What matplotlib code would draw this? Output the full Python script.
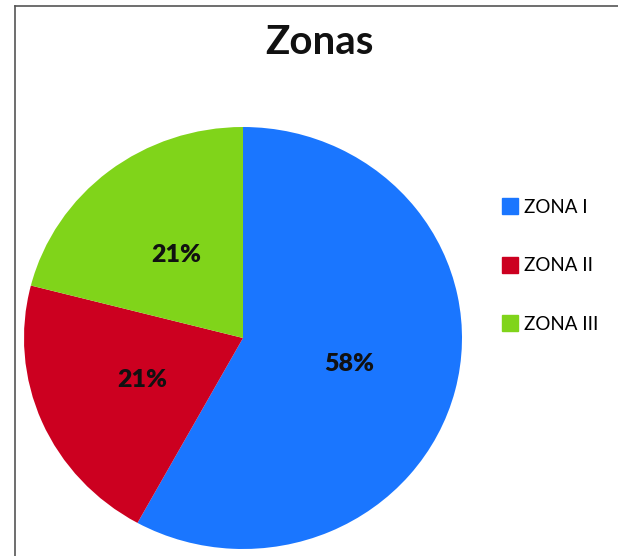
import matplotlib.pyplot as plt
from matplotlib.lines import Line2D

# datos del gráfico
zonas = ["ZONA I", "ZONA II", "ZONA III"]
porcentajes = [58, 21, 21]
colores = ["#1a76ff", "#cc0020", "#80d41a"]

fig = plt.figure(figsize=(6.18, 5.56), dpi=100)
W, H = 618, 556

# marco (solo borde izquierdo y superior visibles)
fig.add_artist(Line2D([15 / W, 15 / W], [0, 1 - 6 / H], color="#555555", lw=1.2, transform=fig.transFigure))
fig.add_artist(Line2D([15 / W, 1], [1 - 6 / H, 1 - 6 / H], color="#555555", lw=1.2, transform=fig.transFigure))

cx, cy, rx, ry = 243, 338, 219, 211
ax = fig.add_axes([(cx - rx) / W, (H - cy - ry) / H, 2 * rx / W, 2 * ry / H])
wedges, textos, autotextos = ax.pie(
    porcentajes, colors=colores, startangle=90, counterclock=False,
    autopct="%.0f%%", pctdistance=0.5, radius=1,
    textprops=dict(fontsize=18, fontweight="heavy", family="Lato", color="#111111"),
)
ax.set_xlim(-1, 1)
ax.set_ylim(-1, 1)
ax.set_aspect("auto")
ax.axis("off")

fig.text(319 / W, 1 - 43 / H, "Zonas", ha="center", va="center",
         fontsize=29, fontweight="bold", family="Lato", color="#111111")

handles = [Line2D([], [], marker="s", linestyle="none", markersize=11,
                  markerfacecolor=c, markeredgecolor=c) for c in colores]
fig.legend(handles, zonas, loc="upper left", bbox_to_anchor=(502 / W, 1 - 199 / H),
           frameon=False, prop=dict(family="Lato", size=13.5), labelspacing=2.2,
           handlelength=0.8, handletextpad=0.4, borderpad=0, borderaxespad=0)

fig.savefig("out.png", dpi=100)
